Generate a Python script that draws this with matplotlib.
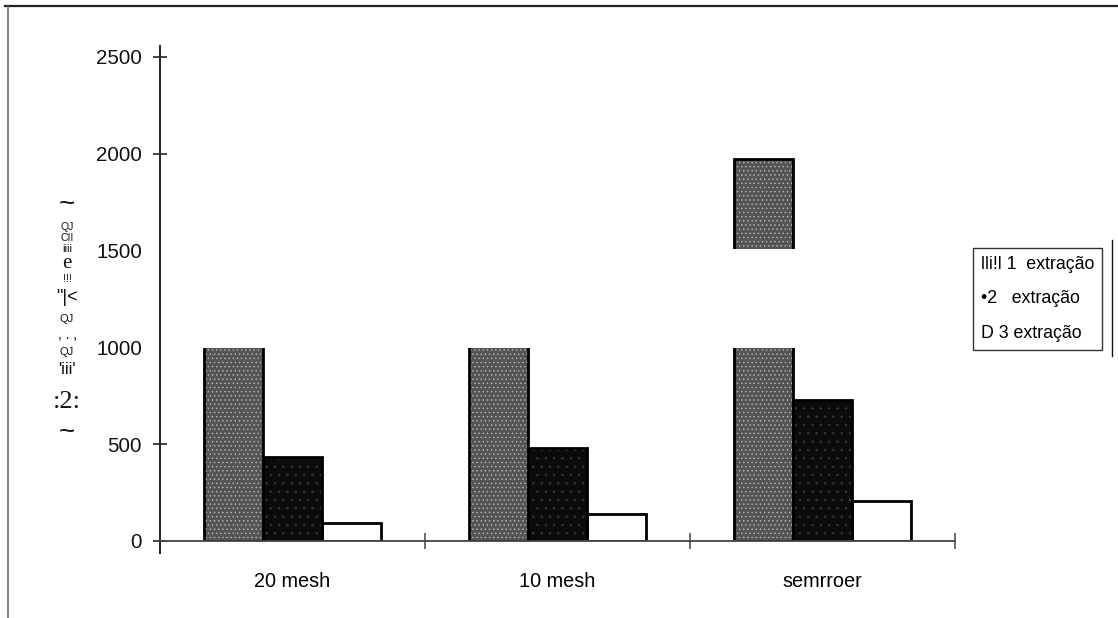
import matplotlib
matplotlib.use("Agg")
import matplotlib.pyplot as plt
from matplotlib.lines import Line2D
import numpy as np

# ---- data ----
categories = ["20 mesh", "10 mesh", "semrroer"]
series_labels = ["lli!l 1  extração", "•2   extração", "D 3 extração"]
extr1 = [1300, 1350, 1975]
extr2 = [435, 478, 730]
extr3 = [95, 142, 205]
y_ticks = [0, 500, 1000, 1500, 2000, 2500]
gap_band = (998, 1510)   # band of the scan where the page lost its ink

plt.rcParams["font.family"] = ["Liberation Sans", "DejaVu Sans"]
plt.rcParams["hatch.linewidth"] = 0.5

fig = plt.figure(figsize=(11.18, 6.18), dpi=100)
ax = fig.add_axes([160 / 1118, 77 / 618, 795 / 1118, 484 / 618])

x = np.arange(len(categories))
w = 0.222

styles = [
    dict(face="#555555", hatch="....", hcol="#b8b8b8"),
    dict(face="#0b0b0b", hatch="..", hcol="#383838"),
    dict(face="white", hatch=None, hcol="white"),
]
handles = []
for i, (vals, st) in enumerate(zip([extr1, extr2, extr3], styles)):
    pos = x + (i - 1) * w
    b = ax.bar(pos, vals, width=w, color=st["face"], hatch=st["hatch"],
               edgecolor=st["hcol"], linewidth=0, zorder=1)
    ax.bar(pos, vals, width=w, fill=False, edgecolor="black",
           linewidth=2.0, zorder=1.2)
    handles.append(b)

# faded strip of the scan
ax.axhspan(*gap_band, facecolor="white", edgecolor="none", zorder=3)

ax.set_xlim(-0.5, 2.5)
ax.set_ylim(0, 2500)

for s in ["top", "right"]:
    ax.spines[s].set_visible(False)
ax.spines["left"].set_bounds(-60, 2555)
ax.spines["left"].set_linewidth(1.4)
ax.spines["left"].set_color("#222222")
ax.spines["left"].set_zorder(5)
ax.spines["bottom"].set_linewidth(1.3)
ax.spines["bottom"].set_color("#444444")
ax.spines["bottom"].set_zorder(5)

ax.set_yticks(y_ticks)
ax.set_yticklabels([str(v) for v in y_ticks])
ax.tick_params(axis="y", direction="inout", length=10, width=1.1,
               labelsize=14.8, pad=8, colors="#111111")
for t in ax.yaxis.get_major_ticks():
    if t.get_loc() in (1000, 1500):
        t.tick1line.set_visible(False)

ax.set_xticks(x)
ax.set_xticklabels(categories)
ax.tick_params(axis="x", which="major", length=0, labelsize=14.3, pad=22)
ax.set_xticks(x + 0.5, minor=True)
ax.tick_params(axis="x", which="minor", direction="inout", length=12,
               width=1.1, color="#444444")

leg = ax.legend(handles, series_labels, loc="upper left",
                bbox_to_anchor=(973 / 1118, 1 - 248 / 618),
                bbox_transform=fig.transFigure, fontsize=12.8,
                handlelength=0, handletextpad=0, fancybox=False,
                frameon=True, edgecolor="black", borderpad=0.45,
                labelspacing=0.98, borderaxespad=0)
leg.get_frame().set_linewidth(1.0)
for h in leg.legend_handles:
    h.set_visible(False)

# y label: stacked glyphs of the scanned caption
ylab = [("~", 205, 20), ("QJ", 227, 7.5), ("CII", 238, 7.5), ("iiii", 249, 8),
        ("e", 264, 15), ("!!!", 279, 8), ("\"|<", 297, 13), ("QJ", 319, 8),
        (", . ,", 335, 10), ("QJ", 352, 8), ("'iii'", 370, 12),
        (":2:", 402, 19), ("~", 433, 20)]
for s, yy, fs in ylab:
    fam = ["Liberation Serif"] if s in (":2:", "e") else ["Liberation Sans"]
    fig.text(67 / 1118, 1 - yy / 618, s, ha="center", va="center",
             fontsize=fs, family=fam, color="#111111")

# page frame lines
fig.add_artist(Line2D([5 / 1118, 1.0], [1 - 6 / 618] * 2,
                      color="#222222", lw=1.6))
fig.add_artist(Line2D([8 / 1118] * 2, [1 - 7 / 618, 0],
                      color="#777777", lw=1.3))
fig.add_artist(Line2D([1112 / 1118] * 2, [1 - 240 / 618, 1 - 356 / 618],
                      color="#111111", lw=1.0))

fig.savefig("out.png", dpi=100)
